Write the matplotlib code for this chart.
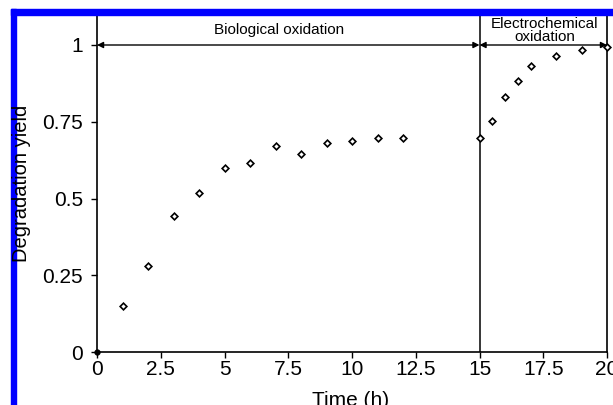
import matplotlib
matplotlib.use("Agg")
import matplotlib.pyplot as plt
from matplotlib.patches import Rectangle

plt.rcParams['font.family'] = ['Liberation Sans', 'DejaVu Sans']

# Degradation yield over time: biological stage then electrochemical stage
time_h = [0, 1, 2, 3, 4, 5, 6, 7, 8, 9, 10, 11, 12, 15,
          15.5, 16, 16.5, 17, 18, 19, 20]
yield_frac = [0.0, 0.15, 0.28, 0.443, 0.518, 0.60, 0.615, 0.672, 0.645,
              0.681, 0.687, 0.697, 0.697, 0.697,
              0.752, 0.83, 0.883, 0.93, 0.963, 0.984, 0.995]

x_ticks = [0, 2.5, 5, 7.5, 10, 12.5, 15, 17.5, 20]
x_tick_labels = ["0", "2.5", "5", "7.5", "10", "12.5", "15", "17.5", "20"]
y_ticks = [0, 0.25, 0.5, 0.75, 1]
y_tick_labels = ["0", "0.25", "0.5", "0.75", "1"]

stage_switch = 15
stage_labels = ["Biological oxidation", "Electrochemical\noxidation"]

W, H = 613, 405
fig = plt.figure(figsize=(W / 100, H / 100), dpi=100)
ax = fig.add_axes([97 / W, (H - 352) / H, (607 - 97) / W, (352 - 15) / H])

ax.plot(time_h[1:], yield_frac[1:], linestyle='none', marker='D',
        markersize=3.4, markerfacecolor='white', markeredgecolor='black',
        markeredgewidth=1.2, clip_on=False, zorder=3)
ax.plot(time_h[:1], yield_frac[:1], linestyle='none', marker='o',
        markersize=3.5, color='black', clip_on=False, zorder=3)

ax.set_xlim(0, 20)
ax.set_ylim(0, 1 + 30 / 307)
ax.set_xticks(x_ticks)
ax.set_xticklabels(x_tick_labels)
ax.set_yticks(y_ticks)
ax.set_yticklabels(y_tick_labels)
ax.tick_params(direction='out', length=4, width=1, labelsize=15)
ax.tick_params(axis='x', pad=2)
ax.tick_params(axis='y', pad=6)
for s in ax.spines.values():
    s.set_linewidth(1.2)

# stage divider
ax.axvline(stage_switch, color='black', linewidth=1.1)

# stage extents
arrow_kw = dict(arrowstyle='<|-|>', color='black', lw=1.0,
                mutation_scale=9, shrinkA=0, shrinkB=0)
ax.annotate('', xy=(0, 1), xytext=(stage_switch, 1), arrowprops=arrow_kw)
ax.annotate('', xy=(stage_switch, 1), xytext=(20, 1), arrowprops=arrow_kw)
ax.text(7.15, 1.05, stage_labels[0], ha='center', va='center', fontsize=11)
ax.text(17.55, 1.046, stage_labels[1], ha='center', va='center',
        fontsize=11, linespacing=0.92)

fig.text(22 / W, 1 - 183 / H, "Degradation yield", rotation=90,
         ha='center', va='center', fontsize=14.5, zorder=5)
fig.text(351 / W, 1 - 401 / H, "Time (h)", ha='center', va='center',
         fontsize=15)

# blue frame along left and top edges
fig.patches.append(Rectangle((11 / W, 0), 5 / W, 1 - 9 / H,
                             transform=fig.transFigure, color='#0000ff',
                             zorder=1))
fig.patches.append(Rectangle((11 / W, 1 - 15 / H), 1, 6 / H,
                             transform=fig.transFigure, color='#0000ff',
                             zorder=1))

fig.savefig("out.png", dpi=100)
